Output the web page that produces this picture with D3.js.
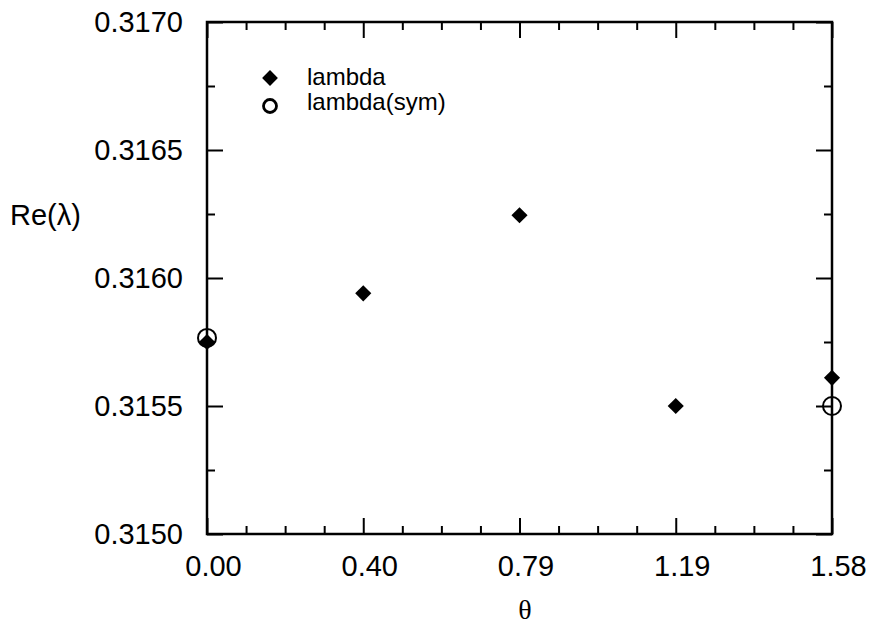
<!DOCTYPE html>
<html>
<head>
<meta charset="utf-8">
<script src="https://cdn.jsdelivr.net/npm/d3@7"></script>
<style>
  body { margin: 0; background: #fff; }
  svg { display: block; }
</style>
</head>
<body>
<script>
// ---- data ----
const thetaValues = [0, 0.395, 0.79, 1.185, 1.58];
const lambdaValues = [0.31575, 0.31594, 0.316245, 0.31550, 0.31561];
const symTheta = [0, 1.58];
const symValues = [0.315766, 0.31550];
const xTickValues = [0, 0.395, 0.79, 1.185, 1.58];
const xTickLabels = ["0.00", "0.40", "0.79", "1.19", "1.58"];
const yTickValues = [0.3150, 0.3155, 0.3160, 0.3165, 0.3170];
const yTickLabels = ["0.3150", "0.3155", "0.3160", "0.3165", "0.3170"];
const legendLabels = ["lambda", "lambda(sym)"];

const W = 873, H = 627;
const pL = 207, pR = 832, pT = 22, pB = 534;

const svg = d3.select("body").append("svg").attr("width", W).attr("height", H);

const x = d3.scaleLinear().domain([0, 1.58]).range([pL, pR]);
const y = d3.scaleLinear().domain([0.3150, 0.3170]).range([pB, pT]);

const xMinor = d3.range(0, 17).map(i => i * 1.58 / 16).filter((v, i) => i % 4 !== 0);
const yMinor = d3.range(0, 9).map(i => 0.3150 + i * 0.00025).filter((v, i) => i % 2 !== 0);

const font = "'Liberation Sans', Arial, Helvetica, sans-serif";

function styleAxis(g) {
  g.select(".domain").remove();
  g.selectAll(".tick line").attr("stroke", "#000").attr("stroke-width", 2);
}

// bottom axis - major with labels
const gb = svg.append("g").attr("transform", `translate(0,${pB})`)
  .call(d3.axisBottom(x).tickValues(xTickValues).tickSize(-16).tickPadding(21)
    .tickFormat((d, i) => xTickLabels[i]));
styleAxis(gb);
gb.selectAll(".tick text").attr("font-family", font).attr("font-size", 29).attr("fill", "#000").attr("dx", 6);
const gbm = svg.append("g").attr("transform", `translate(0,${pB})`)
  .call(d3.axisBottom(x).tickValues(xMinor).tickSize(-8).tickFormat(""));
styleAxis(gbm);

// top axis
const gt = svg.append("g").attr("transform", `translate(0,${pT})`)
  .call(d3.axisTop(x).tickValues(xTickValues).tickSize(-16).tickFormat(""));
styleAxis(gt);
const gtm = svg.append("g").attr("transform", `translate(0,${pT})`)
  .call(d3.axisTop(x).tickValues(xMinor).tickSize(-8).tickFormat(""));
styleAxis(gtm);

// left axis
const gl = svg.append("g").attr("transform", `translate(${pL},0)`)
  .call(d3.axisLeft(y).tickValues(yTickValues).tickSize(-16).tickPadding(24)
    .tickFormat((d, i) => yTickLabels[i]));
styleAxis(gl);
gl.selectAll(".tick text").attr("font-family", font).attr("font-size", 29).attr("fill", "#000");
const glm = svg.append("g").attr("transform", `translate(${pL},0)`)
  .call(d3.axisLeft(y).tickValues(yMinor).tickSize(-8).tickFormat(""));
styleAxis(glm);

// right axis
const gr = svg.append("g").attr("transform", `translate(${pR},0)`)
  .call(d3.axisRight(y).tickValues(yTickValues).tickSize(-16).tickFormat(""));
styleAxis(gr);
const grm = svg.append("g").attr("transform", `translate(${pR},0)`)
  .call(d3.axisRight(y).tickValues(yMinor).tickSize(-8).tickFormat(""));
styleAxis(grm);

// frame
svg.append("rect")
  .attr("x", pL).attr("y", pT)
  .attr("width", pR - pL).attr("height", pB - pT)
  .attr("fill", "none").attr("stroke", "#000").attr("stroke-width", 2.5);

// data: open circles (sym)
svg.append("g").selectAll("circle").data(symTheta).join("circle")
  .attr("cx", (d) => x(d)).attr("cy", (d, i) => y(symValues[i]))
  .attr("r", 9).attr("fill", "none").attr("stroke", "#000").attr("stroke-width", 2);

// data: filled diamonds
const diamond = d3.symbol().type(d3.symbolSquare).size(130);
svg.append("g").selectAll("path").data(thetaValues).join("path")
  .attr("d", diamond)
  .attr("transform", (d, i) => `translate(${x(d)},${y(lambdaValues[i])}) rotate(45)`)
  .attr("fill", "#000");

// legend
const legend = svg.append("g");
legend.append("path")
  .attr("d", d3.symbol().type(d3.symbolSquare).size(125)())
  .attr("transform", "translate(270,78) rotate(45)")
  .attr("fill", "#000");
legend.append("circle").attr("cx", 270).attr("cy", 106).attr("r", 6.5)
  .attr("fill", "none").attr("stroke", "#000").attr("stroke-width", 2.8);
legend.append("text").attr("x", 307).attr("y", 85).text(legendLabels[0])
  .attr("font-family", font).attr("font-size", 24).attr("fill", "#000");
legend.append("text").attr("x", 307).attr("y", 110).text(legendLabels[1])
  .attr("font-family", font).attr("font-size", 24).attr("fill", "#000");

// axis titles
svg.append("text").attr("x", 10).attr("y", 225).text("Re(λ)")
  .attr("font-family", font).attr("font-size", 29).attr("fill", "#000");
svg.append("text").attr("x", 525).attr("y", 619).attr("text-anchor", "middle").text("θ")
  .attr("font-family", "'Liberation Serif', 'Times New Roman', serif").attr("font-size", 28).attr("fill", "#000");
</script>
</body>
</html>
